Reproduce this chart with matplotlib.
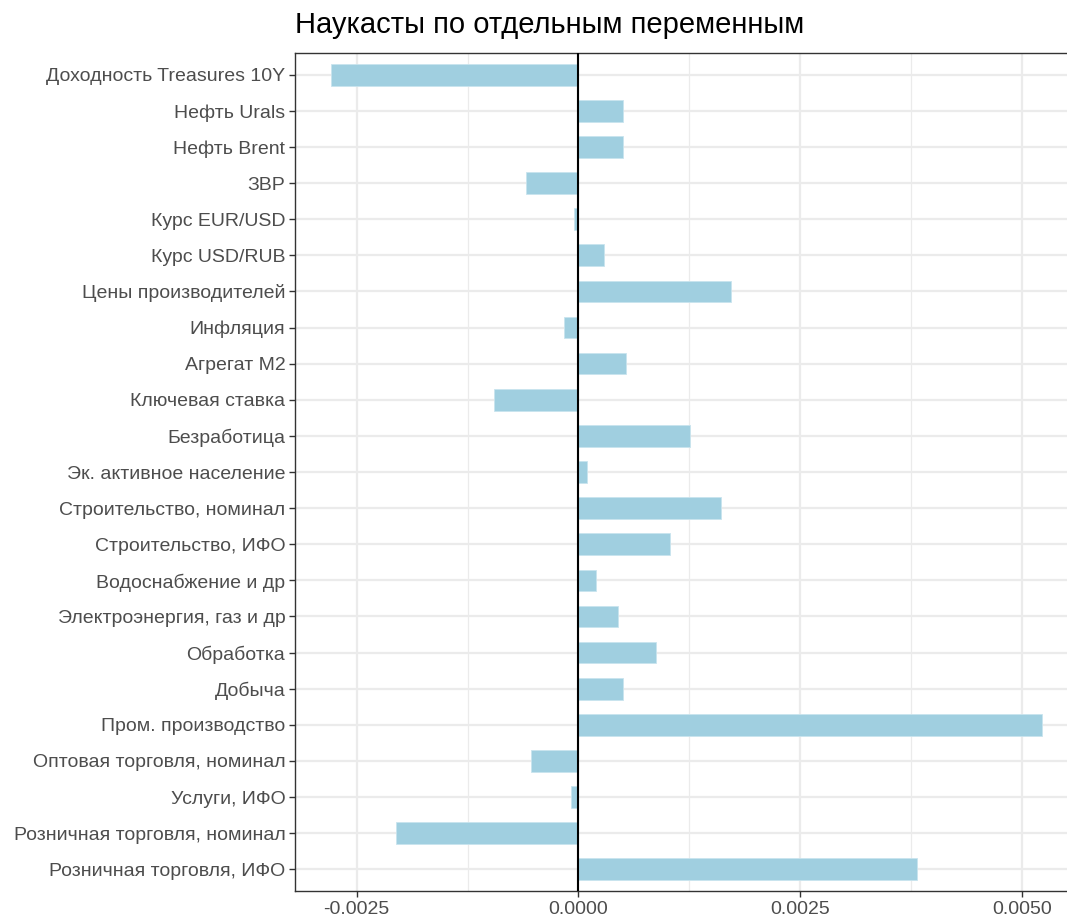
import matplotlib
matplotlib.use("Agg")
import matplotlib.pyplot as plt
from matplotlib.ticker import FixedLocator

plt.rcParams['font.family'] = ['Liberation Sans', 'DejaVu Sans']

# variables, top to bottom as shown
variables = [
    'Доходность Treasures 10Y', 'Нефть Urals', 'Нефть Brent', 'ЗВР',
    'Курс EUR/USD', 'Курс USD/RUB', 'Цены производителей', 'Инфляция',
    'Агрегат М2', 'Ключевая ставка', 'Безработица', 'Эк. активное население',
    'Строительство, номинал', 'Строительство, ИФО', 'Водоснабжение и др',
    'Электроэнергия, газ и др', 'Обработка', 'Добыча', 'Пром. производство',
    'Оптовая торговля, номинал', 'Услуги, ИФО', 'Розничная торговля, номинал',
    'Розничная торговля, ИФО',
]
effects = [
    -0.002793, 0.000507, 0.000507, -0.000592,
    -0.000052, 0.000289, 0.00172, -0.000158,
    0.000537, -0.000953, 0.00126, 0.000098,
    0.0016, 0.001036, 0.000196,
    0.000444, 0.000875, 0.000507, 0.005222,
    -0.000533, -0.000088, -0.002053,
    0.003814,
]
xticks = [-0.0025, 0.0, 0.0025, 0.005]
xtick_labels = ['-0.0025', '0.0000', '0.0025', '0.0050']

fig = plt.figure(figsize=(10.67, 9.19), dpi=100)
W, H = 1067, 919
left, right, top, bottom = 295, 1077.6, 53, 891
ax = fig.add_axes([left / W, 1 - bottom / H, (right - left) / W, (bottom - top) / H])

n = len(variables)
ypos = list(range(n - 1, -1, -1))

ax.barh(ypos, effects, height=0.6, color='#a0cfe0', edgecolor='#c9e4ee',
        linewidth=0.6, zorder=2)
ax.axvline(0, color='black', linewidth=1.5, zorder=3)

span = max(effects) - min(effects)
ax.set_xlim(min(effects) - 0.05 * span, max(effects) + 0.05 * span)
ax.set_ylim(-0.6, n - 1 + 0.6)

ax.xaxis.set_major_locator(FixedLocator(xticks))
ax.set_xticklabels(xtick_labels)
ax.xaxis.set_minor_locator(FixedLocator([-0.00375, -0.00125, 0.00125, 0.00375]))
ax.set_yticks(ypos)
ax.set_yticklabels(variables)

ax.grid(which='major', color='#ebebeb', linewidth=1.6, zorder=0)
ax.grid(which='minor', axis='x', color='#ebebeb', linewidth=0.9, zorder=0)
ax.set_axisbelow(True)

for s in ['top', 'left', 'bottom']:
    ax.spines[s].set_color('#333333')
    ax.spines[s].set_linewidth(1.0)
ax.spines['right'].set_visible(False)

ax.tick_params(which='major', length=4, width=1, color='#333333',
               labelsize=14, labelcolor='#4d4d4d', pad=3)
ax.tick_params(which='minor', length=0)

fig.text(left / W, 1 - 25 / H, 'Наукасты по отдельным переменным',
         fontsize=21, color='black', ha='left', va='center')

fig.savefig('out.png', dpi=100)
